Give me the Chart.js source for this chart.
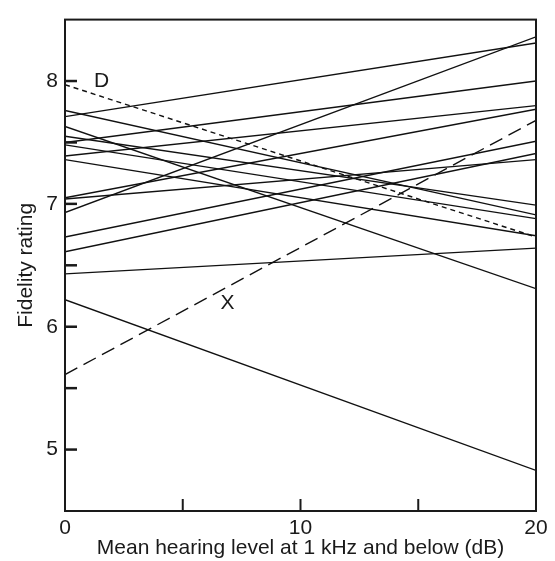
<!DOCTYPE html>
<html>
<head>
<meta charset="utf-8">
<script src="https://cdn.jsdelivr.net/npm/chart.js@4"></script>
<style>
  html, body { margin: 0; padding: 0; background: #fff; }
</style>
</head>
<body>
<canvas id="chart" width="555" height="561"></canvas>
<script>
// hearing level (dB) at the two ends of every regression line
const hearingLevels = [0, 20];
// fidelity rating at 0 dB and at 20 dB, one entry per listener
const startRatings = [7.71, 6.93, 7.50, 7.39, 7.05, 6.73, 6.61, 7.04, 6.43, 7.76, 7.55, 7.48, 7.36, 7.63, 6.22];
const endRatings   = [8.31, 8.36, 8.00, 7.80, 7.77, 7.51, 7.41, 7.36, 6.64, 6.91, 6.99, 6.88, 6.74, 6.31, 4.83];
// the two labelled listeners
const listenerD = [7.97, 6.73];
const listenerX = [5.61, 7.68];
const markNames = ['D', 'X'];
const markAt = [[1.55, 8.0], [6.9, 6.19]];
// ticks
const yTicks = [5, 6, 7, 8];
const yMinorTicks = [5, 5.5, 6, 6.5, 7, 7.5, 8];
const xTicks = [0, 10, 20];
const xMinorTicks = [5, 10, 15];

const FONT = '"Liberation Sans", Arial, Helvetica, sans-serif';
const ink = '#1a1a1a';

const line = (a, b) => hearingLevels.map((x, i) => ({ x, y: [a, b][i] }));

const datasets = startRatings.map((s, i) => ({
    data: line(s, endRatings[i]),
    borderColor: '#111',
    borderWidth: 1.4,
    pointRadius: 0,
}));
datasets.push({
    data: line(listenerD[0], listenerD[1]),
    borderColor: '#111',
    borderWidth: 1.4,
    borderDash: [5, 4],
    pointRadius: 0,
});
datasets.push({
    data: line(listenerX[0], listenerX[1]),
    borderColor: '#111',
    borderWidth: 1.4,
    borderDash: [14, 7],
    pointRadius: 0,
});

const framePlugin = {
    id: 'frame',
    afterDatasetsDraw(chart) {
        const { ctx, chartArea: a, scales: { x, y } } = chart;
        ctx.save();
        ctx.strokeStyle = ink;
        ctx.lineWidth = 2;
        ctx.strokeRect(a.left, a.top, a.right - a.left, a.bottom - a.top);
        // inward ticks
        ctx.lineWidth = 2.5;
        yMinorTicks.forEach(v => {
            const py = y.getPixelForValue(v);
            ctx.beginPath();
            ctx.moveTo(a.left, py);
            ctx.lineTo(a.left + 12, py);
            ctx.stroke();
        });
        ctx.lineWidth = 2;
        xMinorTicks.forEach(v => {
            const px = x.getPixelForValue(v);
            ctx.beginPath();
            ctx.moveTo(px, a.bottom);
            ctx.lineTo(px, a.bottom - 12);
            ctx.stroke();
        });
        // listener labels
        ctx.fillStyle = ink;
        ctx.font = '21px ' + FONT;
        ctx.textAlign = 'center';
        ctx.textBaseline = 'middle';
        markNames.forEach((t, i) => {
            ctx.fillText(t, x.getPixelForValue(markAt[i][0]), y.getPixelForValue(markAt[i][1]));
        });
        ctx.restore();
    }
};

new Chart(document.getElementById('chart').getContext('2d'), {
    type: 'line',
    data: { datasets },
    plugins: [framePlugin],
    options: {
        responsive: false,
        animation: false,
        devicePixelRatio: 1,
        layout: { padding: { top: 7, right: 19, bottom: 0, left: 0 } },
        plugins: { legend: { display: false }, tooltip: { enabled: false } },
        scales: {
            x: {
                type: 'linear',
                min: 0,
                max: 20,
                grid: { display: false, drawTicks: false },
                border: { display: false },
                afterBuildTicks: s => { s.ticks = xTicks.map(value => ({ value })); },
                afterFit: s => { s.height = 50; },
                ticks: { color: ink, font: { family: FONT, size: 21 }, padding: 5, maxRotation: 0 },
                title: {
                    display: true,
                    text: 'Mean hearing level at 1 kHz and below (dB)',
                    color: ink,
                    font: { family: FONT, size: 21, lineHeight: 1.2 },
                    padding: { top: 0, bottom: 0 },
                },
            },
            y: {
                min: 4.5,
                max: 8.5,
                grid: { display: false, drawTicks: false },
                border: { display: false },
                afterBuildTicks: s => { s.ticks = yTicks.map(value => ({ value })); },
                afterFit: s => { s.width = 65; },
                ticks: { color: ink, font: { family: FONT, size: 21 }, padding: 7 },
                title: {
                    display: true,
                    text: 'Fidelity rating',
                    color: ink,
                    font: { family: FONT, size: 21, lineHeight: 1.2 },
                    padding: { top: 14, bottom: 0 },
                },
            },
        },
    },
});
</script>
</body>
</html>
